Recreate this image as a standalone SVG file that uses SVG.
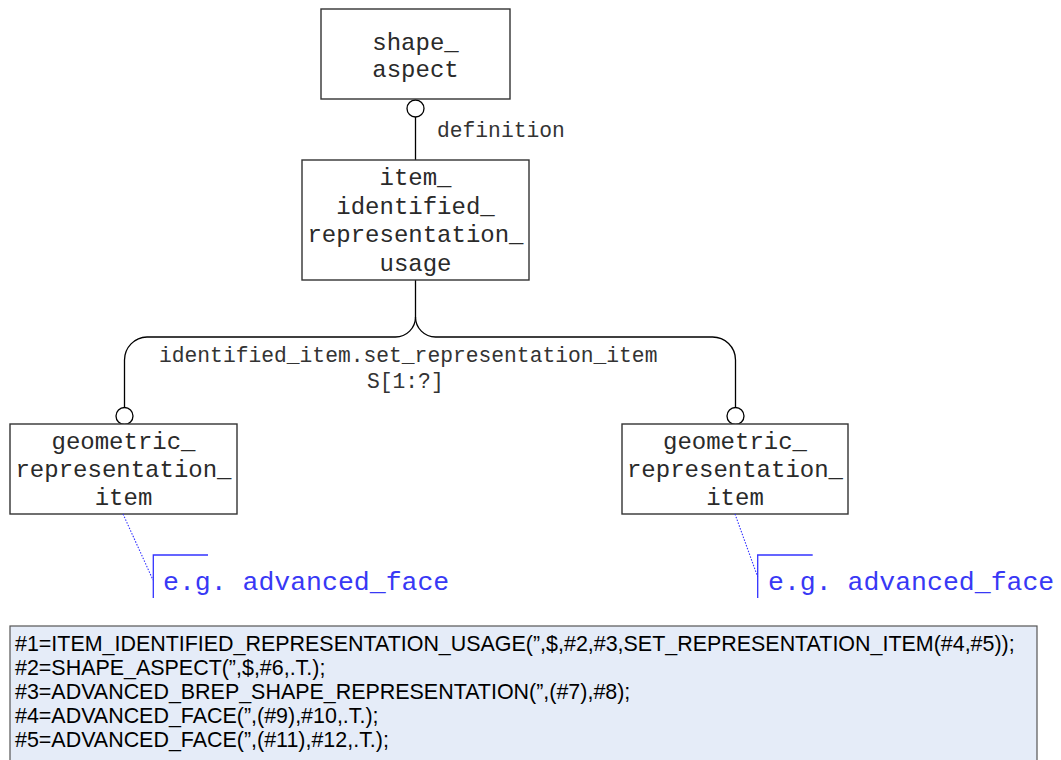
<svg xmlns="http://www.w3.org/2000/svg" width="1061" height="760" viewBox="0 0 1061 760">
<style>
.box{fill:#fff;stroke:#333;stroke-width:1.4}
.bt{font-family:"Liberation Mono","Courier New",monospace;font-size:24px;fill:#2a2a2a;text-anchor:middle}
.lbl{font-family:"Liberation Mono","Courier New",monospace;font-size:21.3px;fill:#333}
.con{fill:none;stroke:#000;stroke-width:1.3}
.ring{fill:#fff;stroke:#000;stroke-width:1.3}
.note{font-family:"Liberation Mono","Courier New",monospace;font-size:26.5px;fill:#3838f5}
.nb{fill:none;stroke:#3333ff;stroke-width:1.3}
.dot{fill:none;stroke:#3333ff;stroke-width:1.1;stroke-dasharray:1.5 1.5}
.code{font-family:"Liberation Sans",Arial,sans-serif;font-size:21.45px;fill:#000}
</style>
<rect width="1061" height="760" fill="#fff"/>
<g id="connectors">
<path class="con" d="M415.5,117 V160"/>
<path class="con" d="M415.5,280 V317 A20,20 0 0 1 395.5,337 H147 A23,23 0 0 0 124.5,360 V407.5"/>
<path class="con" d="M415.5,317 A20,20 0 0 0 435.5,337 H712 A23,23 0 0 1 735.5,360 V407.5"/>
<circle class="ring" cx="415.5" cy="108.5" r="8.5"/>
<circle class="ring" cx="124.5" cy="416" r="8.5"/>
<circle class="ring" cx="735.5" cy="416" r="8.5"/>
<text class="lbl" x="437" y="137">definition</text>
<text class="lbl" x="159" y="362">identified_item.set_representation_item</text>
<text class="lbl" x="367" y="388">S[1:?]</text>
</g>
<g id="shape_aspect">
<rect class="box" x="321" y="9" width="189" height="90"/>
<text class="bt" x="415.5" y="50">shape_</text>
<text class="bt" x="415.5" y="77">aspect</text>
</g>
<g id="item_identified_representation_usage">
<rect class="box" x="302" y="160" width="227" height="120"/>
<text class="bt" x="415.5" y="185">item_</text>
<text class="bt" x="415.5" y="213.5">identified_</text>
<text class="bt" x="415.5" y="242">representation_</text>
<text class="bt" x="415.5" y="270.5">usage</text>
</g>
<g id="geometric_representation_item_1">
<rect class="box" x="10" y="424" width="227" height="90"/>
<text class="bt" x="123.5" y="449">geometric_</text>
<text class="bt" x="123.5" y="477">representation_</text>
<text class="bt" x="123.5" y="505">item</text>
</g>
<g id="geometric_representation_item_2">
<rect class="box" x="622" y="424" width="226" height="90"/>
<text class="bt" x="735" y="449">geometric_</text>
<text class="bt" x="735" y="477">representation_</text>
<text class="bt" x="735" y="505">item</text>
</g>
<g id="note_1">
<path class="dot" d="M123,514 L153,580"/>
<path class="nb" d="M208,555 H153.3 V598"/>
<text class="note" x="163" y="590">e.g. advanced_face</text>
</g>
<g id="note_2">
<path class="dot" d="M735,514 L757.7,577"/>
<path class="nb" d="M812.7,555 H757.7 V598"/>
<text class="note" x="768" y="590">e.g. advanced_face</text>
</g>
<g id="code_block">
<rect x="10" y="626" width="1027" height="140" fill="#e5ecf8" stroke="#555" stroke-width="1.2"/>
<text class="code" x="15" y="651">#1=ITEM_IDENTIFIED_REPRESENTATION_USAGE(”,$,#2,#3,SET_REPRESENTATION_ITEM(#4,#5));</text>
<text class="code" x="15" y="675">#2=SHAPE_ASPECT(”,$,#6,.T.);</text>
<text class="code" x="15" y="699">#3=ADVANCED_BREP_SHAPE_REPRESENTATION(”,(#7),#8);</text>
<text class="code" x="15" y="723">#4=ADVANCED_FACE(”,(#9),#10,.T.);</text>
<text class="code" x="15" y="747">#5=ADVANCED_FACE(”,(#11),#12,.T.);</text>
</g>
</svg>
